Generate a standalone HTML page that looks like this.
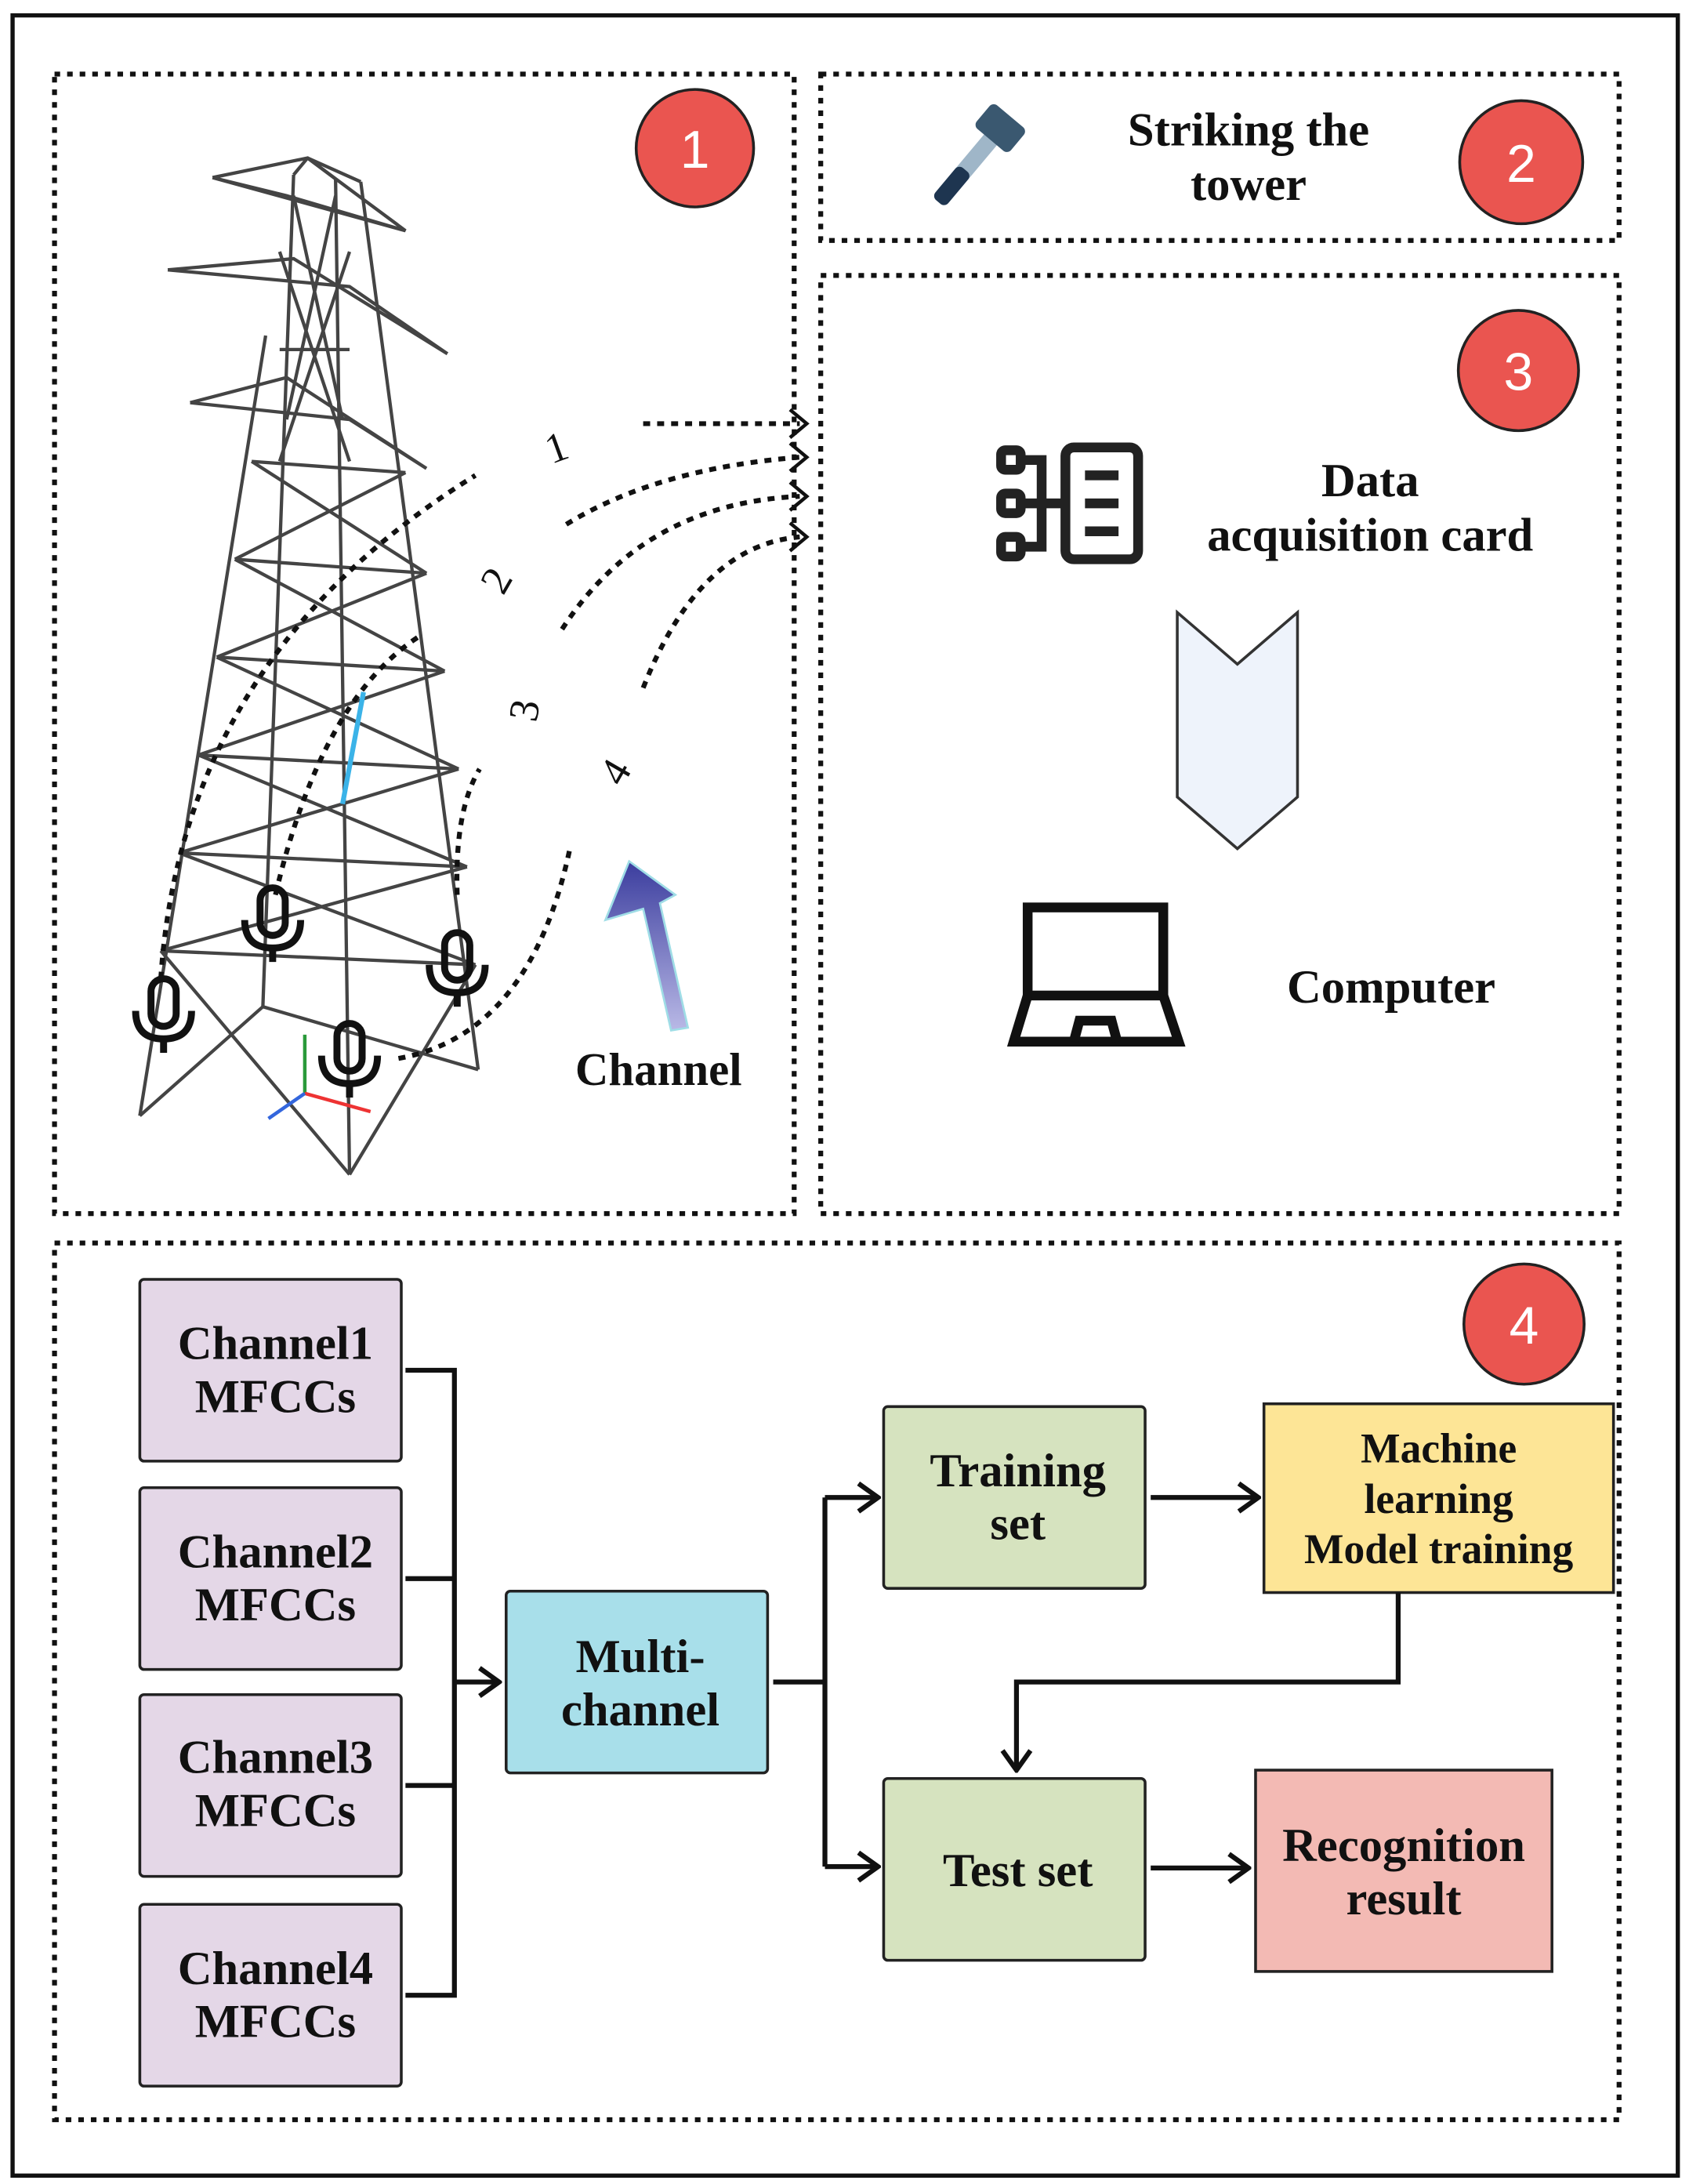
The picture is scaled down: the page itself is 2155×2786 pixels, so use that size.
<!DOCTYPE html>
<html><head><meta charset="utf-8"><style>
html,body{margin:0;padding:0;background:#fff;}
svg{display:block;}
text{font-family:"Liberation Serif",serif;fill:#111;}
</style></head><body>
<svg width="2155" height="2786" viewBox="0 0 1208 1562" preserveAspectRatio="none" xmlns="http://www.w3.org/2000/svg">
<defs>
<marker id="oh" viewBox="0 0 20 24" refX="18" refY="12" markerWidth="20" markerHeight="24" markerUnits="userSpaceOnUse" orient="auto"><path d="M4,2 L18,12 L4,22" fill="none" stroke="#111" stroke-width="3.5"/></marker>
<linearGradient id="bg1" x1="0" y1="0" x2="0" y2="1"><stop offset="0" stop-color="#3b3d9e"/><stop offset="1" stop-color="#b9b9e6"/></linearGradient>
</defs>
<rect x="0" y="0" width="1208" height="1562" fill="#fff"/>
<rect x="9" y="11" width="1191" height="1545" fill="none" stroke="#111" stroke-width="3"/>
<g fill="none" stroke="#111" stroke-width="3.5" stroke-dasharray="4,5">
<rect x="39" y="53" width="529" height="815"/>
<rect x="587" y="53" width="571" height="119"/>
<rect x="587" y="197" width="571" height="671"/>
<rect x="39" y="889" width="1119" height="627"/>
</g>
<g stroke="#222" stroke-width="2">
<circle cx="497" cy="106" r="42" fill="#ea5550"/>
<circle cx="1088" cy="116" r="44" fill="#ea5550"/>
<circle cx="1086" cy="265" r="43" fill="#ea5550"/>
<circle cx="1090" cy="947" r="43" fill="#ea5550"/>
</g>
<g font-size="38" text-anchor="middle">
<text x="497" y="120" style="fill:#fff;font-family:'Liberation Sans',sans-serif">1</text>
<text x="1088" y="130" style="fill:#fff;font-family:'Liberation Sans',sans-serif">2</text>
<text x="1086" y="279" style="fill:#fff;font-family:'Liberation Sans',sans-serif">3</text>
<text x="1090" y="961" style="fill:#fff;font-family:'Liberation Sans',sans-serif">4</text>
</g>
<!-- tower -->
<g stroke="#444" stroke-width="2.4" fill="none">
<path d="M152,127 L220,113 L290,165 L152,127 M152,127 L205,140 L290,165"/>
<path d="M120,193 L210,185 L320,253 M120,193 L250,205 L320,253"/>
<path d="M136,288 L205,270 L305,335 M136,288 L250,300 L305,335"/>
<path d="M190,240 L100,798 M210,125 L188,720 M240,128 L250,840 M258,130 L342,765"/>
<path d="M220,113 L210,125 M220,113 L258,130 M220,113 L240,128"/>
<path d="M180,330 L290,338 M168,400 L305,410 M155,470 L318,480 M142,540 L328,550 M128,610 L334,620 M115,680 L340,690"/>
<path d="M180,330 L305,410 M290,338 L168,400 M168,400 L318,480 M305,410 L155,470 M155,470 L328,550 M318,480 L142,540 M142,540 L334,620 M328,550 L128,610 M128,610 L340,690 M334,620 L115,680 M115,680 L250,840 M340,690 L250,840 M100,798 L188,720 M188,720 L342,765"/>
<path d="M210,140 L245,300 M240,140 L205,300 M200,250 L250,250 M200,180 L250,330 M250,180 L200,330"/>
</g>
<line x1="260" y1="495" x2="245" y2="575" stroke="#3bb3e8" stroke-width="3.5"/>
<g stroke-width="2.5"><line x1="218" y1="782" x2="218" y2="740" stroke="#2a9a3a"/><line x1="218" y1="782" x2="265" y2="795" stroke="#e33"/><line x1="218" y1="782" x2="192" y2="800" stroke="#3366dd"/></g>
<g fill="none" stroke="#111" stroke-width="3.5" stroke-dasharray="5,5">
<path d="M115,700 Q130,470 340,340"/>
<path d="M197,640 Q230,500 300,455"/>
<path d="M327,640 Q325,580 343,550"/>
<path d="M285,757 Q380,740 408,605"/>
<path d="M460,303 L572,303"/>
<path d="M405,375 Q470,335 572,327"/>
<path d="M402,450 Q460,360 572,355"/>
<path d="M460,492 Q500,390 572,384"/>
</g>
<g fill="none" stroke="#111" stroke-width="2.5"><path d="M565,293 L577,303 L565,313 M565,317 L577,327 L565,337 M565,345 L577,355 L565,365 M565,374 L577,384 L565,394"/></g>
<g font-size="30">
<text x="398" y="330" transform="rotate(-20 398 320)" text-anchor="middle">1</text>
<text x="355" y="425" transform="rotate(-60 355 415)" text-anchor="middle">2</text>
<text x="375" y="518" transform="rotate(-80 375 508)" text-anchor="middle">3</text>
<text x="440" y="562" transform="rotate(-60 440 552)" text-anchor="middle">4</text>
</g>
<g fill="none" stroke="#111" stroke-width="5">
<g transform="translate(117,725)"><rect x="-9" y="-25" width="18" height="34" rx="9"/><path d="M-20,-2 Q-20,18 0,18 Q20,18 20,-2"/><line x1="0" y1="18" x2="0" y2="28"/></g>
<g transform="translate(195,660)"><rect x="-9" y="-25" width="18" height="34" rx="9"/><path d="M-20,-2 Q-20,18 0,18 Q20,18 20,-2"/><line x1="0" y1="18" x2="0" y2="28"/></g>
<g transform="translate(250,757)"><rect x="-9" y="-25" width="18" height="34" rx="9"/><path d="M-20,-2 Q-20,18 0,18 Q20,18 20,-2"/><line x1="0" y1="18" x2="0" y2="28"/></g>
<g transform="translate(327,692)"><rect x="-9" y="-25" width="18" height="34" rx="9"/><path d="M-20,-2 Q-20,18 0,18 Q20,18 20,-2"/><line x1="0" y1="18" x2="0" y2="28"/></g>
</g>
<path d="M433,658 L450,616 L483,640 L472,646 L492,735 L480,737 L460,650 Z" fill="url(#bg1)" stroke="#9fdde6" stroke-width="1.5"/>
<text x="471" y="776" font-size="33" text-anchor="middle" font-weight="bold">Channel</text>
<g transform="rotate(40 700 110)"><rect x="694" y="95" width="12" height="55" fill="#9fb6c8"/><rect x="694" y="125" width="12" height="30" rx="4" fill="#1e3550"/><rect x="684" y="75" width="32" height="22" rx="4" fill="#3a5870"/></g>
<text x="893" y="104" font-size="34" text-anchor="middle" font-weight="bold">Striking the</text>
<text x="893" y="143" font-size="34" text-anchor="middle" font-weight="bold">tower</text>
<g fill="none" stroke="#222" stroke-width="7">
<rect x="762" y="320" width="52" height="80" rx="6"/>
<rect x="716" y="322" width="14" height="14" rx="3"/><rect x="716" y="353" width="14" height="14" rx="3"/><rect x="716" y="384" width="14" height="14" rx="3"/>
<path d="M730,329 L745,329 L745,391 L730,391 M730,360 L762,360"/>
<path d="M776,340 L800,340 M776,360 L800,360 M776,380 L800,380"/>
</g>
<text x="980" y="355" font-size="34" text-anchor="middle" font-weight="bold">Data</text>
<text x="980" y="394" font-size="34" text-anchor="middle" font-weight="bold">acquisition card</text>
<polygon points="842,438 885,475 928,438 928,570 885,607 842,570" fill="#eef3fb" stroke="#333" stroke-width="2"/>
<g fill="none" stroke="#111" stroke-width="7"><rect x="735" y="649" width="97" height="63"/><path d="M735,712 L725,745 L843,745 L832,712"/><path d="M768,745 L772,730 L795,730 L799,745"/></g>
<text x="995" y="717" font-size="34" text-anchor="middle" font-weight="bold">Computer</text>
<g stroke="#222" stroke-width="2">
<rect x="100" y="915" width="187" height="130" rx="3" fill="#e4d7e7"/>
<rect x="100" y="1064" width="187" height="130" rx="3" fill="#e4d7e7"/>
<rect x="100" y="1212" width="187" height="130" rx="3" fill="#e4d7e7"/>
<rect x="100" y="1362" width="187" height="130" rx="3" fill="#e4d7e7"/>
<rect x="362" y="1138" width="187" height="130" rx="3" fill="#a8dfea"/>
<rect x="632" y="1006" width="187" height="130" rx="3" fill="#d6e3bf"/>
<rect x="632" y="1272" width="187" height="130" rx="3" fill="#d6e3bf"/>
<rect x="904" y="1004" width="250" height="135" fill="#fde596"/>
<rect x="898" y="1266" width="212" height="144" fill="#f3bab4"/>
</g>
<g font-size="34" text-anchor="middle" font-weight="bold">
<text x="197" y="972">Channel1</text><text x="197" y="1010">MFCCs</text>
<text x="197" y="1121">Channel2</text><text x="197" y="1159">MFCCs</text>
<text x="197" y="1268">Channel3</text><text x="197" y="1306">MFCCs</text>
<text x="197" y="1419">Channel4</text><text x="197" y="1457">MFCCs</text>
<text x="458" y="1196">Multi-</text><text x="458" y="1234">channel</text>
<text x="728" y="1063">Training</text><text x="728" y="1101">set</text>
<text x="728" y="1349">Test set</text>
<text x="1004" y="1331">Recognition</text><text x="1004" y="1369">result</text>
</g>
<g font-size="30" text-anchor="middle" font-weight="bold">
<text x="1029" y="1046">Machine</text><text x="1029" y="1082">learning</text><text x="1029" y="1118">Model training</text>
</g>
<g fill="none" stroke="#111" stroke-width="3.5">
<path d="M290,980 L325,980 L325,1427 L290,1427 M290,1129 L325,1129 M290,1277 L325,1277"/>
<path d="M325,1203 L357,1203" marker-end="url(#oh)"/>
<path d="M553,1203 L590,1203 M590,1071 L590,1335"/>
<path d="M590,1071 L628,1071" marker-end="url(#oh)"/>
<path d="M590,1335 L628,1335" marker-end="url(#oh)"/>
<path d="M823,1071 L900,1071" marker-end="url(#oh)"/>
<path d="M823,1336 L893,1336" marker-end="url(#oh)"/>
<path d="M1000,1139 L1000,1203 L727,1203 L727,1266" marker-end="url(#oh)"/>
</g>
</svg>
</body></html>
